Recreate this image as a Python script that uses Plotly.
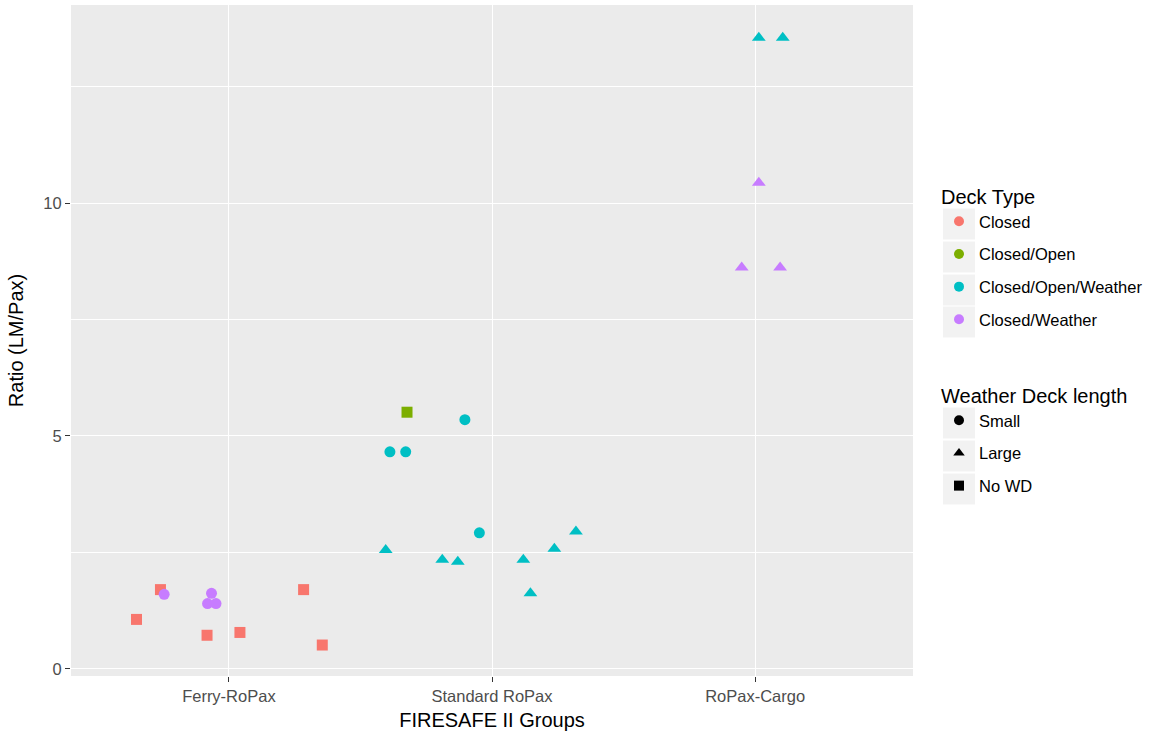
import plotly.graph_objects as go

# ---- data ----
groups = ["Ferry-RoPax", "Standard RoPax", "RoPax-Cargo"]
deck_types = ["Closed", "Closed/Open", "Closed/Open/Weather", "Closed/Weather"]
wd_lengths = ["Small", "Large", "No WD"]

# jittered x position (category index 1..3 plus jitter), ratio, deck type, weather deck length
x_pos = [0.740, 0.754, 0.649, 0.934, 0.919, 0.951, 0.917, 1.042, 1.284, 1.355,
         1.677, 1.897, 1.612, 1.672, 1.952, 1.596, 1.811, 1.870, 2.119, 2.146, 2.237, 2.319,
         3.014, 3.105, 3.014, 2.949, 3.095]
ratio = [1.70, 1.60, 1.06, 1.62, 1.40, 1.40, 0.72, 0.78, 1.70, 0.51,
         5.51, 5.35, 4.66, 4.66, 2.92, 2.55, 2.34, 2.30, 2.34, 1.62, 2.58, 2.95,
         13.55, 13.55, 10.44, 8.62, 8.62]
deck = ["Closed", "Closed/Weather", "Closed", "Closed/Weather", "Closed/Weather", "Closed/Weather",
        "Closed", "Closed", "Closed", "Closed",
        "Closed/Open", "Closed/Open/Weather", "Closed/Open/Weather", "Closed/Open/Weather",
        "Closed/Open/Weather", "Closed/Open/Weather", "Closed/Open/Weather", "Closed/Open/Weather",
        "Closed/Open/Weather", "Closed/Open/Weather", "Closed/Open/Weather", "Closed/Open/Weather",
        "Closed/Open/Weather", "Closed/Open/Weather", "Closed/Weather", "Closed/Weather", "Closed/Weather"]
wd = ["No WD", "Small", "No WD", "Small", "Small", "Small", "No WD", "No WD", "No WD", "No WD",
      "No WD", "Small", "Small", "Small", "Small", "Large", "Large", "Large", "Large", "Large", "Large", "Large",
      "Large", "Large", "Large", "Large", "Large"]

# ---- styles ----
colors = {"Closed": "#F8766D", "Closed/Open": "#7CAE00",
          "Closed/Open/Weather": "#00BFC4", "Closed/Weather": "#C77CFF"}
symbols = {"Small": "circle", "Large": "triangle-up", "No WD": "square"}
sizes = {"Small": 11, "Large": 12, "No WD": 11}

FONT = "Liberation Sans, Arial, sans-serif"
fig = go.Figure()

for dt in deck_types:
    idx = [i for i, d in enumerate(deck) if d == dt]
    fig.add_trace(go.Scatter(
        x=[x_pos[i] for i in idx], y=[ratio[i] for i in idx], mode="markers",
        marker=dict(color=colors[dt], symbol=[symbols[wd[i]] for i in idx],
                    size=[sizes[wd[i]] for i in idx], opacity=1, line=dict(width=0)),
        showlegend=False, hoverinfo="x+y"))

# legend entries
for dt in deck_types:
    fig.add_trace(go.Scatter(x=[None], y=[None], mode="markers", name=dt,
                             marker=dict(color=colors[dt], symbol="circle", size=10, opacity=1),
                             legend="legend", legendgroup="d_" + dt))
for w in wd_lengths:
    fig.add_trace(go.Scatter(x=[None], y=[None], mode="markers", name=w,
                             marker=dict(color="black", symbol=symbols[w], size=10, opacity=1),
                             legend="legend2", legendgroup="w_" + w))

W, H = 1154, 731
L, R, T, B = 71, 241, 5, 55
PW, PH = W - L - R, H - T - B


def px_x(px):
    return (px - L) / PW


def px_y(py):
    return (H - B - py) / PH


LEG_FS = 16.5
GAP = 32.7 - (LEG_FS * 1.3 + 3)
leg_common = dict(bgcolor="rgba(0,0,0,0)", borderwidth=0, traceorder="grouped",
                  tracegroupgap=GAP, font=dict(family=FONT, size=LEG_FS, color="black"),
                  itemclick=False, itemdoubleclick=False, xanchor="left", yanchor="top")

# grey legend key backgrounds (ggplot style)
shapes = []
for cy in [224, 257, 290, 322, 423, 456, 489]:
    shapes.append(dict(type="rect", xref="paper", yref="paper",
                       x0=px_x(943), x1=px_x(975), y0=px_y(cy + 15.5), y1=px_y(cy - 15.5),
                       fillcolor="#F2F2F2", line=dict(width=0), layer="above"))

fig.update_layout(
    width=W, height=H,
    margin=dict(l=L, r=R, t=T, b=B, autoexpand=False),
    paper_bgcolor="white", plot_bgcolor="#EBEBEB",
    font=dict(family=FONT, color="black"),
    shapes=shapes,
    legend=dict(title=dict(text="Deck Type", font=dict(size=20)),
                x=px_x(939), y=px_y(178), **leg_common),
    legend2=dict(title=dict(text="Weather Deck length", font=dict(size=20)),
                 x=px_x(939), y=px_y(377), **leg_common),
    xaxis=dict(range=[0.4, 3.6], tickmode="array", tickvals=[1, 2, 3], ticktext=groups,
               showgrid=True, gridcolor="white", gridwidth=1.4, zeroline=False, automargin=False,
               ticks="outside", ticklen=5, tickcolor="#333333", tickwidth=1,
               tickfont=dict(size=16.5, color="#4D4D4D"),
               title=dict(text="FIRESAFE II Groups", font=dict(size=20, color="black"), standoff=9),
               showline=False),
    yaxis=dict(range=[-0.155, 14.255], tickmode="array", tickvals=[0, 5, 10],
               showgrid=True, gridcolor="white", gridwidth=1.4, zeroline=False, automargin=False,
               minor=dict(tickmode="array", tickvals=[2.5, 7.5, 12.5], showgrid=True,
                          gridcolor="white", gridwidth=0.7, ticks=""),
               ticks="outside", ticklen=5, tickcolor="#333333", tickwidth=1,
               tickfont=dict(size=16.5, color="#4D4D4D"),
               title=dict(text="Ratio (LM/Pax)", font=dict(size=20, color="black"), standoff=14),
               showline=False),
)

fig.write_html("out.html", config={"displayModeBar": False},
               post_script="document.body.style.margin='0px';")
